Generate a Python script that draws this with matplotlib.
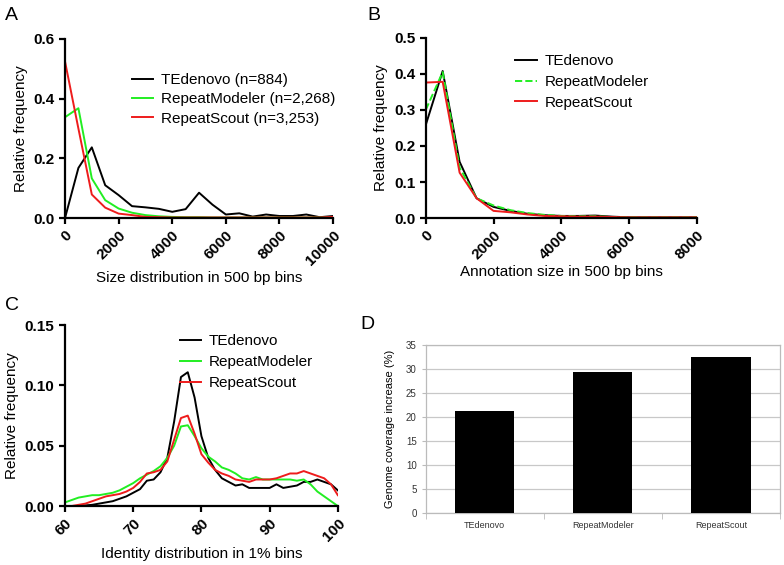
import numpy as np
import matplotlib
matplotlib.use('Agg')
import matplotlib.pyplot as plt

plt.rcParams['font.family'] = ['Liberation Sans', 'DejaVu Sans']

# Panel A: size distribution, 500 bp bins
size_bins = np.arange(0, 10001, 500)
a_tedenovo = [0.0, 0.168, 0.237, 0.11, 0.077, 0.04, 0.036, 0.031, 0.021, 0.03, 0.085,
              0.045, 0.012, 0.016, 0.005, 0.012, 0.007, 0.007, 0.012, 0.003, 0.007]
a_modeler = [0.338, 0.368, 0.133, 0.06, 0.032, 0.018, 0.01, 0.006, 0.004, 0.003, 0.003,
             0.002, 0.002, 0.002, 0.002, 0.002, 0.002, 0.002, 0.002, 0.002, 0.002]
a_scout = [0.525, 0.30, 0.079, 0.035, 0.015, 0.01, 0.004, 0.003, 0.002, 0.002, 0.002,
           0.002, 0.002, 0.002, 0.002, 0.002, 0.002, 0.002, 0.002, 0.002, 0.004]

# Panel B: annotation size, 500 bp bins
annot_bins = np.arange(0, 8001, 500)
b_tedenovo = [0.258, 0.408, 0.156, 0.055, 0.031, 0.02, 0.012, 0.008, 0.006, 0.006, 0.007,
              0.004, 0.002, 0.002, 0.002, 0.002, 0.002]
b_modeler = [0.30, 0.405, 0.14, 0.055, 0.035, 0.022, 0.014, 0.009, 0.006, 0.005, 0.005,
             0.003, 0.002, 0.002, 0.002, 0.002, 0.002]
b_scout = [0.376, 0.378, 0.126, 0.055, 0.02, 0.016, 0.01, 0.006, 0.005, 0.004, 0.004,
           0.003, 0.002, 0.002, 0.002, 0.002, 0.002]

# Panel C: identity distribution, 1% bins
identity = np.arange(60, 101)
c_tedenovo = [0.0, 0.0, 0.0, 0.0005, 0.001, 0.002, 0.003, 0.004, 0.006, 0.008, 0.011,
              0.014, 0.021, 0.022, 0.028, 0.04, 0.07, 0.107, 0.111, 0.09, 0.058,
              0.04, 0.03, 0.023, 0.02, 0.017, 0.018, 0.015, 0.015, 0.015, 0.015,
              0.018, 0.015, 0.016, 0.017, 0.02, 0.02, 0.022, 0.02, 0.018, 0.013]
c_modeler = [0.003, 0.005, 0.007, 0.008, 0.009, 0.009, 0.010, 0.011, 0.013, 0.016, 0.019,
             0.023, 0.026, 0.029, 0.033, 0.04, 0.05, 0.066, 0.067, 0.058, 0.048,
             0.041, 0.037, 0.032, 0.03, 0.027, 0.023, 0.022, 0.024, 0.022, 0.022,
             0.022, 0.022, 0.022, 0.021, 0.022, 0.018, 0.012, 0.008, 0.004, 0.0]
c_scout = [0.0, 0.0, 0.001, 0.002, 0.004, 0.006, 0.008, 0.009, 0.01, 0.012, 0.015,
           0.02, 0.027, 0.028, 0.03, 0.037, 0.055, 0.073, 0.075, 0.06, 0.043,
           0.036, 0.03, 0.027, 0.025, 0.022, 0.021, 0.02, 0.022, 0.022, 0.022,
           0.023, 0.025, 0.027, 0.027, 0.029, 0.027, 0.025, 0.023, 0.018, 0.009]

# Panel D: genome coverage increase
tools = ['TEdenovo', 'RepeatModeler', 'RepeatScout']
coverage = [21.3, 29.4, 32.6]

green = '#22ee22'
red = '#ee1c1c'
leg_kw = dict(loc='upper left', frameon=False, fontsize=11, handlelength=1.4,
              handletextpad=0.5, borderaxespad=0, borderpad=0)


def prism_axes(ax, xlim, ylim, xticks, yticks, yfmt):
    ax.set_xlim(xlim)
    ax.set_ylim(ylim)
    ax.set_xticks(xticks)
    ax.set_yticks(yticks)
    ax.set_yticklabels([yfmt.format(v) for v in yticks], fontweight='bold', fontsize=11)
    ax.set_xticklabels([str(v) for v in xticks], fontweight='bold', fontsize=11,
                       rotation=45, ha='right', rotation_mode='anchor')
    for s in ['top', 'right']:
        ax.spines[s].set_visible(False)
    for s in ['left', 'bottom']:
        ax.spines[s].set_linewidth(1.6)
    ax.tick_params(width=1.6, length=4)


fig = plt.figure(figsize=(7.84, 5.65), dpi=100)

# A
ax = fig.add_axes([0.0829, 0.614, 0.342, 0.317])
ax.plot(size_bins, a_tedenovo, color='black', lw=1.4, label='TEdenovo (n=884)')
ax.plot(size_bins, a_modeler, color=green, lw=1.4, label='RepeatModeler (n=2,268)')
ax.plot(size_bins, a_scout, color=red, lw=1.4, label='RepeatScout (n=3,253)')
prism_axes(ax, (0, 10000), (0, 0.6), [0, 2000, 4000, 6000, 8000, 10000],
           [0.0, 0.2, 0.4, 0.6], '{:.1f}')
ax.set_xlabel('Size distribution in 500 bp bins', fontsize=11, labelpad=2)
ax.set_ylabel('Relative frequency', fontsize=11, labelpad=4)
ax.legend(bbox_to_anchor=(0.25, 0.81), labelspacing=0.35, **leg_kw)
fig.text(0.006, 0.987, 'A', fontsize=14, va='top')

# B
ax = fig.add_axes([0.543, 0.614, 0.346, 0.319])
ax.plot(annot_bins, b_tedenovo, color='black', lw=1.4, label='TEdenovo')
ax.plot(annot_bins, b_modeler, color=green, lw=1.4, ls='--', label='RepeatModeler')
ax.plot(annot_bins, b_scout, color=red, lw=1.4, label='RepeatScout')
prism_axes(ax, (0, 8000), (0, 0.5), [0, 2000, 4000, 6000, 8000],
           [0.0, 0.1, 0.2, 0.3, 0.4, 0.5], '{:.1f}')
ax.set_xlabel('Annotation size in 500 bp bins', fontsize=11, labelpad=2)
ax.set_ylabel('Relative frequency', fontsize=11, labelpad=4)
ax.legend(bbox_to_anchor=(0.33, 0.91), labelspacing=0.45, **leg_kw)
fig.text(0.468, 0.987, 'B', fontsize=14, va='top')

# C
ax = fig.add_axes([0.0829, 0.1044, 0.348, 0.320])
ax.plot(identity, c_tedenovo, color='black', lw=1.4, label='TEdenovo')
ax.plot(identity, c_modeler, color=green, lw=1.4, label='RepeatModeler')
ax.plot(identity, c_scout, color=red, lw=1.4, label='RepeatScout')
prism_axes(ax, (60, 100), (0, 0.15), [60, 70, 80, 90, 100],
           [0.00, 0.05, 0.10, 0.15], '{:.2f}')
ax.set_xlabel('Identity distribution in 1% bins', fontsize=11, labelpad=2)
ax.set_ylabel('Relative frequency', fontsize=11, labelpad=4)
ax.legend(bbox_to_anchor=(0.42, 0.95), labelspacing=0.45, **leg_kw)
fig.text(0.006, 0.475, 'C', fontsize=14, va='top')

# D
ax = fig.add_axes([0.543, 0.092, 0.452, 0.297])
xpos = np.arange(len(tools))
ax.bar(xpos, coverage, width=0.5, color='black', zorder=3)
ax.set_xlim(-0.5, 2.5)
ax.set_ylim(0, 35)
ax.set_yticks(np.arange(0, 36, 5))
ax.set_xticks(xpos)
ax.set_xticklabels(tools, fontsize=6.5, color='#333333')
ax.set_xticks([-0.5, 0.5, 1.5, 2.5], minor=True)
ax.tick_params(axis='x', which='major', length=0, pad=6)
ax.tick_params(axis='x', which='minor', length=4, color='#bbbbbb')
ax.tick_params(axis='y', labelsize=7, labelcolor='#333333', length=3, color='#bbbbbb')
ax.grid(axis='y', color='#c8c8c8', lw=0.9, zorder=0)
for s in ax.spines.values():
    s.set_color('#bbbbbb')
    s.set_linewidth(0.9)
ax.set_ylabel('Genome coverage increase (%)', fontsize=8, labelpad=8)
fig.text(0.46, 0.44, 'D', fontsize=14, va='top')

fig.savefig('out.png', dpi=100)
